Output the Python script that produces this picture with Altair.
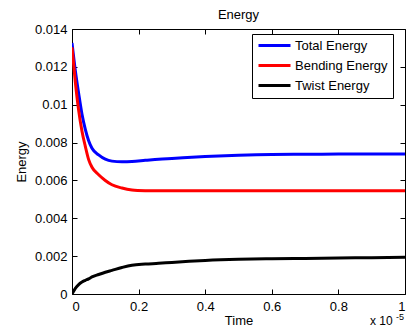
import altair as alt
import pandas as pd

time = [0, 0.01, 0.02, 0.03, 0.04, 0.05, 0.06, 0.08, 0.10, 0.12, 0.15, 0.18, 0.22,
        0.26, 0.3, 0.4, 0.5, 0.6, 0.7, 0.8, 0.9, 1.0]
total = [0.01326, 0.0118, 0.0106, 0.0095, 0.0087, 0.0081, 0.0077, 0.00735, 0.00712,
         0.00702, 0.00699, 0.00700, 0.00706, 0.00712, 0.00716, 0.00726,
         0.00733, 0.00737, 0.00738, 0.00739, 0.0074, 0.0074]
bending = [0.01303, 0.0112, 0.0097, 0.0086, 0.0078, 0.0071, 0.0067, 0.0063, 0.0060,
           0.00577, 0.00560, 0.00550, 0.00546, 0.00545, 0.00545, 0.00545,
           0.00545, 0.00545, 0.00545, 0.00545, 0.00545, 0.00545]
twist = [0, 0.0003, 0.0005, 0.00063, 0.00072, 0.0008, 0.0009, 0.00103, 0.00115,
         0.00125, 0.0014, 0.00152, 0.00158, 0.00162, 0.00167, 0.00177,
         0.00183, 0.00186, 0.00188, 0.0019, 0.00192, 0.00194]

series_names = ["Total Energy", "Bending Energy", "Twist Energy"]
series_colors = ["#0000ff", "#ff0000", "#000000"]
x_ticks = [0, 0.2, 0.4, 0.6, 0.8, 1.0]
y_ticks = [0, 0.002, 0.004, 0.006, 0.008, 0.01, 0.012, 0.014]
title_text = ["Energy"]
exponent_base = ["x 10"]
exponent_power = ["-5"]

rows = []
for name, vals in zip(series_names, [total, bending, twist]):
    for t, v in zip(time, vals):
        rows.append({"Time": t, "Energy": v, "Series": name})
df = pd.DataFrame(rows)

W, H = 333, 265
FONT = "Liberation Sans"

lines = alt.Chart(df).mark_line(strokeWidth=3, clip=True, interpolate="monotone").encode(
    x=alt.X("Time:Q", scale=alt.Scale(domain=[0, 1], nice=False),
            axis=alt.Axis(values=x_ticks, format="~g", tickSize=0, labelPadding=6,
                          domain=False, grid=True, gridColor="#000000",
                          gridOpacity=1, gridWidth=1, gridDash=[5, H - 10, 5],
                          title="Time", titleX=W / 2, titleY=30,
                          titleBaseline="alphabetic", titleFontWeight="normal")),
    y=alt.Y("Energy:Q", scale=alt.Scale(domain=[0, 0.014], nice=False),
            axis=alt.Axis(values=y_ticks, format="~g", tickSize=0, labelPadding=5,
                          domain=False, grid=True, gridColor="#000000",
                          gridOpacity=1, gridWidth=1, gridDash=[5, W - 10, 5],
                          title="Energy", titleX=-47, titleY=H / 2, titleAngle=270,
                          titleBaseline="alphabetic", titleFontWeight="normal")),
    color=alt.Color("Series:N",
                    scale=alt.Scale(domain=series_names, range=series_colors),
                    sort=series_names,
                    legend=alt.Legend(title=None, orient="none", legendX=180, legendY=5,
                                      fillColor="white", strokeColor="black",
                                      padding=5, symbolType="stroke",
                                      symbolSize=1024, symbolStrokeWidth=3,
                                      clipHeight=13, rowPadding=6, labelOffset=3,
                                      labelFontSize=13, labelFont=FONT,
                                      labelColor="black")),
)

title = alt.Chart(pd.DataFrame({"t": title_text})).mark_text(
    align="center", baseline="alphabetic", fontSize=13, font=FONT, color="black"
).encode(text="t:N", x=alt.value(W / 2), y=alt.value(-10))
exp1 = alt.Chart(pd.DataFrame({"t": exponent_base})).mark_text(
    align="left", baseline="alphabetic", fontSize=12, font=FONT, color="black"
).encode(text="t:N", x=alt.value(298), y=alt.value(296))
exp2 = alt.Chart(pd.DataFrame({"t": exponent_power})).mark_text(
    align="left", baseline="alphabetic", fontSize=9, font=FONT, color="black"
).encode(text="t:N", x=alt.value(324), y=alt.value(291))

chart = alt.layer(lines, title, exp1, exp2).properties(
    width=W, height=H,
    background="white",
    autosize=alt.AutoSizeParams(type="none"),
    padding={"left": 64, "top": 21, "right": 3, "bottom": 33},
).configure_view(stroke="black", strokeWidth=1).configure_axis(
    labelFont=FONT, labelFontSize=13, labelColor="black",
    titleFont=FONT, titleFontSize=13, titleColor="black",
)

chart.save("out.html", embed_options={"renderer": "svg", "actions": False})
